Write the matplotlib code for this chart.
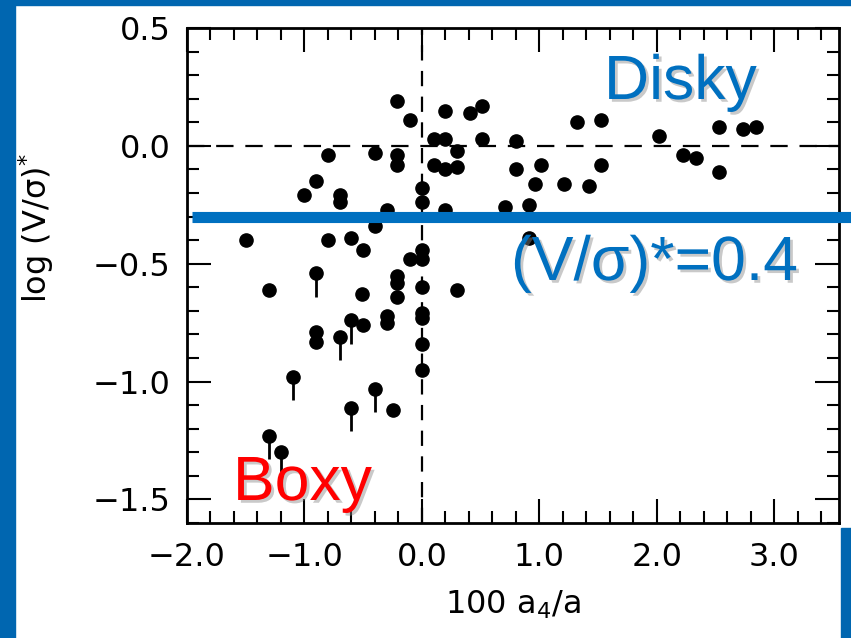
import matplotlib
matplotlib.use('Agg')
import matplotlib.pyplot as plt
import matplotlib.patheffects as pe
from matplotlib.patches import Rectangle
from matplotlib.ticker import MultipleLocator, FixedLocator

# ---------------- data ----------------
dot_x = [-0.21, -0.10, 0.20, 0.41, 0.51,
         0.10, 0.20, 0.51, 0.30, 0.10, 0.20, 0.30,
         -0.80, -0.40, -0.21, -0.21,
         -0.90, -1.00, -0.70, -0.70,
         0.00, 0.00, -0.30, 0.20, 0.71,
         -0.40, -1.50, -0.80, -0.60, -0.50,
         0.00, 0.00, -0.10,
         -0.21, -0.21, -1.30, -0.51, -0.21, 0.00, 0.30,
         -0.30, -0.30, 0.00, 0.00, -0.50,
         -0.90, -0.90, 0.00, 0.00, -0.25,
         0.80, 0.80, 1.01, 0.96, 1.21, 1.42, 1.52, 1.52, 1.32,
         0.91, 0.91,
         2.02, 2.22, 2.33, 2.53, 2.53, 2.73, 2.84]
dot_y = [0.19, 0.11, 0.15, 0.14, 0.17,
         0.03, 0.03, 0.03, -0.02, -0.08, -0.10, -0.09,
         -0.04, -0.03, -0.04, -0.08,
         -0.15, -0.21, -0.21, -0.24,
         -0.18, -0.24, -0.27, -0.27, -0.26,
         -0.34, -0.40, -0.40, -0.39, -0.44,
         -0.44, -0.48, -0.48,
         -0.55, -0.58, -0.61, -0.63, -0.64, -0.60, -0.61,
         -0.72, -0.75, -0.71, -0.73, -0.76,
         -0.79, -0.83, -0.84, -0.95, -1.12,
         0.02, -0.10, -0.08, -0.16, -0.16, -0.17, -0.08, 0.11, 0.10,
         -0.25, -0.39,
         0.04, -0.04, -0.05, 0.08, -0.11, 0.07, 0.08]

# points with a downward limit segment
lim_x = [-0.90, -0.60, -0.70, -1.10, -0.40, -0.60, -1.30, -1.20]
lim_y = [-0.54, -0.74, -0.81, -0.98, -1.03, -1.11, -1.23, -1.30]
lim_drop = [0.10, 0.10, 0.10, 0.10, 0.10, 0.10, 0.10, 0.10]

threshold_y = -0.30

xticks = [-2.0, -1.0, 0.0, 1.0, 2.0, 3.0]
xtick_labels = ['\u22122.0', '\u22121.0', '0.0', '1.0', '2.0', '3.0']
yticks = [0.5, 0.0, -0.5, -1.0, -1.5]
ytick_labels = ['0.5', '0.0', '\u22120.5', '\u22121.0', '\u22121.5']

# ---------------- style ----------------
plt.rcParams['font.family'] = ['DejaVu Sans']
plt.rcParams['lines.scale_dashes'] = False

W, H = 851, 638
fig = plt.figure(figsize=(W / 100, H / 100), dpi=100)
fig.patch.set_facecolor('white')

frame_blue = '#0066B0'
line_blue = '#0070C0'

# blue slide frame
fig.patches.append(Rectangle((0, 0), 15 / W, 1, transform=fig.transFigure,
                             color=frame_blue, zorder=0))
fig.patches.append(Rectangle((0, 1 - 5 / H), 1, 5 / H, transform=fig.transFigure,
                             color=frame_blue, zorder=0))
fig.patches.append(Rectangle((841 / W, 0), 10 / W, 110 / H, transform=fig.transFigure,
                             color=frame_blue, zorder=0))

ax = fig.add_axes([187 / W, 115 / H, 652 / W, 495 / H])
ax.set_xlim(-2.0, 3.55)
ax.set_ylim(-1.6, 0.5)

ax.axhline(0, color='black', lw=1.6, dashes=(12.5, 8.5), zorder=1)
ax.axvline(0, color='black', lw=1.6, dashes=(11, 7.5), zorder=1)

ax.plot(dot_x, dot_y, 'o', ms=9.5, color='black', zorder=3)
ax.vlines(lim_x, [y - d for y, d in zip(lim_y, lim_drop)], lim_y,
          color='black', lw=2.0, zorder=3)
ax.plot(lim_x, lim_y, 'o', ms=9.5, color='black', zorder=3)

ax.axhline(threshold_y, xmin=0.007, xmax=1.02, color=line_blue, lw=8,
           clip_on=False, zorder=6, solid_capstyle='butt')

ax.xaxis.set_major_locator(FixedLocator(xticks))
ax.set_xticklabels(xtick_labels)
ax.yaxis.set_major_locator(FixedLocator(yticks))
ax.set_yticklabels(ytick_labels)
ax.xaxis.set_minor_locator(MultipleLocator(0.2))
ax.yaxis.set_minor_locator(MultipleLocator(0.1))
ax.tick_params(which='both', direction='in', top=True, right=True, width=1.5)
ax.tick_params(which='major', length=17, labelsize=23)
ax.tick_params(which='minor', length=8.5)
ax.tick_params(axis='x', which='major', pad=14)
ax.tick_params(axis='y', which='major', pad=12)
for s in ax.spines.values():
    s.set_linewidth(2)

fig.text(36 / W, 1 - 228 / H, 'log (V/\u03c3)$^{*}$', rotation=90,
         ha='center', va='center', fontsize=23)
fig.text(513 / W, 1 - 605 / H, '100 a$_4$/a', ha='center', va='center', fontsize=23)

shadow = [pe.withSimplePatchShadow(offset=(2, -2), shadow_rgbFace='#888888', alpha=0.45)]
fig.text(604 / W, 1 - 99 / H, 'Disky', fontsize=45, family='Liberation Sans',
         color=line_blue, va='baseline', ha='left', path_effects=shadow, zorder=10)
fig.text(511 / W, 1 - 280 / H, '(V/\u03c3)*=0.4', fontsize=45, family='Liberation Sans',
         color=line_blue, va='baseline', ha='left', path_effects=shadow, zorder=10)
fig.text(233 / W, 1 - 500 / H, 'Boxy', fontsize=45, family='Liberation Sans',
         color='#FF0000', va='baseline', ha='left', path_effects=shadow, zorder=10)

fig.savefig('out.png', dpi=100)
